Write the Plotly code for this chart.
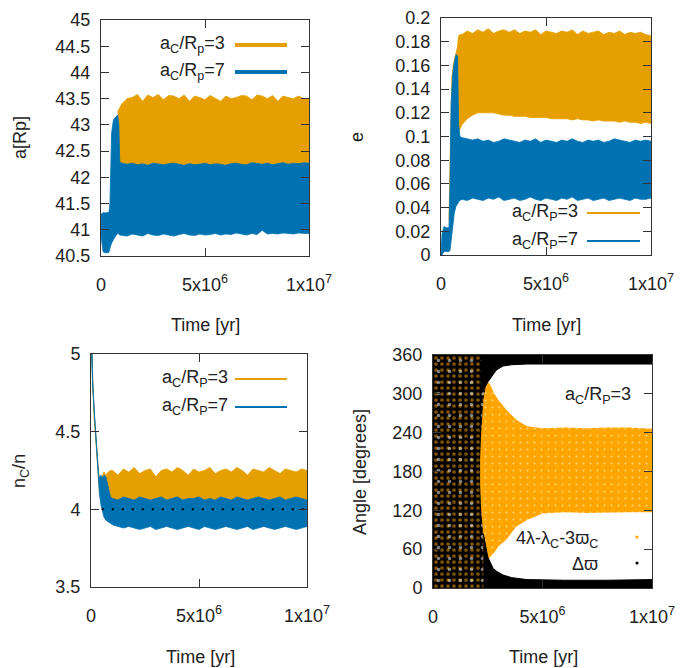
import plotly.graph_objects as go

# ---------------- data (time in Myr) ----------------
T_FLAT = [1.0, 1.25, 1.5, 1.75, 2.0, 2.25, 2.5, 2.75, 3.0, 3.25, 3.5, 3.75, 4.0, 4.25, 4.5, 4.75,
          5.0, 5.25, 5.5, 5.75, 6.0, 6.25, 6.5, 6.75, 7.0, 7.25, 7.5, 7.75, 8.0, 8.25, 8.5, 8.75,
          9.0, 9.25, 9.5, 9.75, 10.0]

# Panel 1: semi-major axis a [Rp] (envelopes of the oscillation band)
A7_T = [0, 0.05, 0.1, 0.2, 0.3, 0.38, 0.43, 0.51, 0.6, 0.7, 0.8, 0.86, 0.9] + T_FLAT
A7_HI = [41.3, 41.3, 41.33, 41.32, 41.33, 41.33, 41.5, 42.85, 43.1, 43.15, 43.19, 43.0, 42.3,
         42.27, 42.25, 42.27, 42.24, 42.26, 42.23, 42.27, 42.25, 42.24, 42.26, 42.27, 42.25, 42.23, 42.26,
         42.24, 42.25, 42.27, 42.24, 42.26, 42.25, 42.23, 42.26, 42.27, 42.25, 42.24, 42.28, 42.26, 42.25,
         42.27, 42.24, 42.26, 42.28, 42.25, 42.27, 42.26, 42.28, 42.27]
A7_LO = [40.9, 40.7, 40.58, 40.56, 40.56, 40.57, 40.65, 40.75, 40.82, 40.88, 40.93, 40.92, 40.9,
         40.90, 40.88, 40.92, 40.90, 40.88, 40.93, 40.90, 40.89, 40.92, 40.90, 40.88, 40.91, 40.93, 40.90,
         40.89, 40.92, 40.90, 40.91, 40.93, 40.90, 40.92, 40.91, 40.94, 40.92, 40.90, 40.93, 40.91, 40.99,
         40.92, 40.93, 40.92, 40.94, 40.93, 40.92, 40.94, 40.93, 40.93]
A3_T = [0.8, 0.86, 0.9] + T_FLAT
A3_HI = [43.25, 43.3, 43.35,
         43.4, 43.5, 43.52, 43.58, 43.45, 43.57, 43.52, 43.58, 43.48, 43.56, 43.55, 43.50, 43.57,
         43.45, 43.55, 43.52, 43.48, 43.56, 43.50, 43.45, 43.55, 43.50, 43.52, 43.56, 43.55, 43.48,
         43.57, 43.55, 43.50, 43.56, 43.45, 43.55, 43.52, 43.50, 43.55, 43.50, 43.50]
A3_LO = [42.2, 42.2, 42.2,
         42.2, 42.2, 42.2, 42.2, 42.2, 42.2, 42.2, 42.2, 42.2, 42.2, 42.2, 42.2, 42.2, 42.2, 42.2,
         42.2, 42.2, 42.2, 42.2, 42.2, 42.2, 42.2, 42.2, 42.2, 42.2, 42.2, 42.2, 42.2, 42.2, 42.2,
         42.2, 42.2, 42.2, 42.2, 42.2, 42.2, 42.2]

# Panel 2: eccentricity e
E7_T = [0, 0.05, 0.14, 0.25, 0.38, 0.43, 0.48, 0.56, 0.63, 0.71, 0.79, 0.84, 0.9] + T_FLAT
E7_HI = [0, 0.018, 0.024, 0.023, 0.023, 0.06, 0.128, 0.153, 0.162, 0.169, 0.168, 0.11, 0.1,
         0.099, 0.098, 0.097, 0.098, 0.096, 0.097, 0.095, 0.096, 0.098, 0.097, 0.096, 0.095, 0.097,
         0.096, 0.098, 0.095, 0.097, 0.096, 0.095, 0.097, 0.096, 0.098, 0.096, 0.095, 0.097, 0.096,
         0.097, 0.095, 0.096, 0.098, 0.097, 0.096, 0.095, 0.097, 0.096, 0.097, 0.096]
E7_LO = [0, 0, 0.003, 0.003, 0.003, 0.004, 0.01, 0.025, 0.035, 0.041, 0.043, 0.045, 0.046,
         0.047, 0.046, 0.048, 0.047, 0.046, 0.048, 0.047, 0.049, 0.046, 0.047, 0.048, 0.046, 0.047,
         0.049, 0.047, 0.046, 0.048, 0.047, 0.046, 0.048, 0.047, 0.049, 0.046, 0.047, 0.048, 0.046,
         0.047, 0.048, 0.046, 0.047, 0.048, 0.047, 0.046, 0.048, 0.047, 0.047, 0.048]
E3_T = [0.38, 0.43, 0.48, 0.52, 0.6, 0.7, 0.78, 0.84, 0.9] + T_FLAT
E3_HI = [0.03, 0.07, 0.12, 0.15, 0.162, 0.17, 0.175, 0.185, 0.186,
         0.186, 0.189, 0.187, 0.190, 0.188, 0.191, 0.187, 0.189, 0.190, 0.188, 0.190, 0.187, 0.189,
         0.188, 0.190, 0.186, 0.189, 0.188, 0.187, 0.189, 0.188, 0.190, 0.186, 0.189, 0.187, 0.188,
         0.189, 0.186, 0.188, 0.187, 0.189, 0.186, 0.188, 0.187, 0.188, 0.186, 0.185]
E3_LO = [0.003, 0.01, 0.03, 0.05, 0.07, 0.09, 0.1, 0.104, 0.106,
         0.110, 0.115, 0.118, 0.120, 0.120, 0.120, 0.120, 0.119, 0.118, 0.118, 0.117, 0.117, 0.117,
         0.116, 0.116, 0.116, 0.116, 0.115, 0.115, 0.115, 0.115, 0.114, 0.115, 0.114, 0.114, 0.113,
         0.114, 0.113, 0.113, 0.113, 0.112, 0.113, 0.112, 0.112, 0.111, 0.112, 0.111]

# Panel 3: period ratio n_C/n
N7_T = [0, 0.04, 0.08, 0.15, 0.23, 0.31, 0.35, 0.39, 0.46, 0.54, 0.6, 0.69, 0.8, 0.9] + T_FLAT
N7_HI = [5.3, 4.97, 4.83, 4.62, 4.44, 4.32, 4.23, 4.2, 4.22, 4.2, 4.22, 4.21, 4.15, 4.08,
         4.07, 4.06, 4.08, 4.07, 4.06, 4.08, 4.07, 4.06, 4.07, 4.08, 4.06, 4.07, 4.08, 4.06, 4.07,
         4.07, 4.08, 4.06, 4.07, 4.06, 4.08, 4.07, 4.06, 4.08, 4.07, 4.06, 4.07, 4.08, 4.07, 4.06,
         4.07, 4.08, 4.06, 4.07, 4.08, 4.07, 4.06]
N7_LO = [5.25, 4.93, 4.79, 4.58, 4.4, 4.28, 4.19, 4.1, 4.03, 3.98, 3.95, 3.93, 3.92, 3.91,
         3.9, 3.89, 3.88, 3.89, 3.88, 3.87, 3.88, 3.89, 3.87, 3.88, 3.89, 3.88, 3.87, 3.88, 3.89,
         3.88, 3.87, 3.89, 3.88, 3.87, 3.88, 3.89, 3.88, 3.87, 3.88, 3.89, 3.87, 3.88, 3.89, 3.88,
         3.87, 3.88, 3.89, 3.88, 3.87, 3.88, 3.89]
N3_T = [0, 0.04, 0.08, 0.15, 0.23, 0.31, 0.35, 0.39, 0.46, 0.54, 0.6, 0.7, 0.8, 0.9] + T_FLAT
N3_HI = [5.3, 4.97, 4.83, 4.62, 4.44, 4.32, 4.24, 4.2, 4.2, 4.22, 4.24, 4.22, 4.24, 4.25,
         4.25, 4.22, 4.26, 4.24, 4.27, 4.23, 4.25, 4.26, 4.21, 4.25, 4.26, 4.24, 4.27, 4.25, 4.22,
         4.26, 4.24, 4.25, 4.27, 4.23, 4.25, 4.26, 4.24, 4.27, 4.25, 4.22, 4.26, 4.25, 4.24, 4.27,
         4.25, 4.23, 4.26, 4.25, 4.24, 4.26, 4.25]
N3_LO = [5.25, 4.93, 4.79, 4.58, 4.4, 4.28, 4.2, 4.12, 4.06, 4.06, 4.06, 4.07, 4.07, 4.07,
         4.06, 4.06, 4.06, 4.06, 4.06, 4.06, 4.06, 4.06, 4.06, 4.06, 4.06, 4.06, 4.06, 4.06, 4.06,
         4.06, 4.06, 4.06, 4.06, 4.06, 4.06, 4.06, 4.06, 4.06, 4.06, 4.06, 4.06, 4.06, 4.06, 4.06,
         4.06, 4.06, 4.06, 4.06, 4.06, 4.06, 4.06]
REF_T = [0.5, 10.0]
REF_N = [4.0, 4.0]

# Panel 4: angles (degrees) - regions occupied by the point clouds
CHAOS_A = [0, 40, 80, 120, 160, 200, 240, 290, 330, 360]
CHAOS_T = [2.45, 2.4, 2.3, 2.2, 2.15, 2.15, 2.2, 2.3, 2.5, 2.9]
TOPB_T = [2.2, 2.5, 2.75, 2.9, 3.2, 3.6, 4.3, 6.0, 8.0, 10.0]
TOPB_A = [300, 318, 330, 337, 343, 345, 346, 346, 345, 346]
BOTB_T = [2.3, 2.5, 2.75, 2.9, 3.2, 3.6, 4.3, 5.2, 6.0, 8.0, 10.0]
BOTB_A = [84, 48, 30, 26, 20, 16, 13, 12, 12, 12, 13]
RES_T = [2.1, 2.2, 2.4, 2.6, 2.8, 3.0, 3.36, 3.8, 4.3, 5.0, 6.0, 7.0, 8.0, 9.0, 10.0]
RES_HI = [290, 305, 322, 315, 300, 290, 275, 260, 250, 247, 248, 247, 248, 248, 246]
RES_LO = [60, 45, 40, 48, 55, 65, 75, 95, 105, 115, 117, 116, 116, 117, 117]

X_TICKS = [0, 5e6, 1e7]
X_TICKTEXT = ['0', '5x10<sup>6</sup>', '1x10<sup>7</sup>']

for t, hi, lo in [(A7_T, A7_HI, A7_LO), (A3_T, A3_HI, A3_LO), (E7_T, E7_HI, E7_LO), (E3_T, E3_HI, E3_LO),
                  (N7_T, N7_HI, N7_LO), (N3_T, N3_HI, N3_LO), (RES_T, RES_HI, RES_LO)]:
    assert len(t) == len(hi) == len(lo), (len(t), len(hi), len(lo))

# ---------------- styling ----------------
W, H = 680, 668
ORANGE = '#E69F00'
BLUE = '#0072B2'
ORANGE4 = '#FFA500'
FONT = dict(family='Liberation Sans, Arial, sans-serif', size=18, color='#222222')
AX = '#333333'

fig = go.Figure()


def myr(t):
    return [v * 1e6 for v in t]


def band(t, hi, lo, color, ax):
    x = myr(t) + myr(t)[::-1]
    y = list(hi) + list(lo)[::-1]
    fig.add_trace(go.Scatter(x=x, y=y, mode='lines', fill='toself', fillcolor=color,
                             line=dict(color=color, width=0.8), xaxis='x' + ax, yaxis='y' + ax,
                             showlegend=False, hoverinfo='skip'))


band(A3_T, A3_HI, A3_LO, ORANGE, '')
band(A7_T, A7_HI, A7_LO, BLUE, '')
band(E3_T, E3_HI, E3_LO, ORANGE, '2')
band(E7_T, E7_HI, E7_LO, BLUE, '2')
band(N3_T, N3_HI, N3_LO, ORANGE, '3')
band(N7_T, N7_HI, N7_LO, BLUE, '3')
fig.add_trace(go.Scatter(x=myr(REF_T), y=REF_N, mode='lines', xaxis='x3', yaxis='y3',
                         line=dict(color='black', width=2, dash='2px,8px'), showlegend=False))

# panel 4 regions
fig.add_trace(go.Scatter(x=myr(RES_T) + myr(RES_T)[::-1], y=RES_HI + RES_LO[::-1], mode='lines',
                         fill='toself', fillcolor=ORANGE4, line=dict(width=0, color=ORANGE4),
                         fillpattern=dict(shape='.', bgcolor=ORANGE4, fgcolor='white', size=7,
                                          solidity=0.07),
                         xaxis='x4', yaxis='y4', showlegend=False, hoverinfo='skip'))
chaos_x = myr(CHAOS_T) + [0.0, 0.0]
chaos_y = CHAOS_A + [CHAOS_A[-1], CHAOS_A[0]]
fig.add_trace(go.Scatter(x=chaos_x, y=chaos_y, mode='lines',
                         fill='toself', fillcolor='black', line=dict(width=0, color='black'),
                         fillpattern=dict(shape='.', bgcolor='black', fgcolor=ORANGE4, size=6,
                                          solidity=0.3),
                         xaxis='x4', yaxis='y4', showlegend=False, hoverinfo='skip'))
fig.add_trace(go.Scatter(x=chaos_x, y=chaos_y, mode='lines',
                         fill='toself', fillcolor='rgba(0,0,0,0)', line=dict(width=0, color='black'),
                         fillpattern=dict(shape='.', bgcolor='rgba(0,0,0,0)', fgcolor='white', size=11,
                                          solidity=0.08),
                         xaxis='x4', yaxis='y4', showlegend=False, hoverinfo='skip'))
fig.add_trace(go.Scatter(x=myr(TOPB_T) + myr(TOPB_T)[::-1], y=TOPB_A + [360] * len(TOPB_A), mode='lines',
                         fill='toself', fillcolor='black', line=dict(width=1, color='black'),
                         xaxis='x4', yaxis='y4', showlegend=False, hoverinfo='skip'))
fig.add_trace(go.Scatter(x=myr(BOTB_T) + myr(BOTB_T)[::-1], y=BOTB_A + [0] * len(BOTB_A), mode='lines',
                         fill='toself', fillcolor='black', line=dict(width=1, color='black'),
                         xaxis='x4', yaxis='y4', showlegend=False, hoverinfo='skip'))


def axis_common():
    return dict(showline=True, linecolor=AX, linewidth=1, mirror='ticks', ticks='inside', ticklen=8,
                tickcolor=AX, showgrid=False, zeroline=False, tickfont=FONT)


def xaxis(dom, anchor):
    d = axis_common()
    d.update(domain=[dom[0] / W, dom[1] / W], range=[0, 1e7], tickvals=X_TICKS, ticktext=X_TICKTEXT,
             anchor=anchor, ticklabelstandoff=12)
    return d


def yaxis(dom, anchor, rng, vals, text):
    d = axis_common()
    d.update(domain=[1 - dom[1] / H, 1 - dom[0] / H], range=rng, tickvals=vals, ticktext=text,
             anchor=anchor, ticklabelstandoff=6)
    return d


P1 = ((101, 309), (20, 256))
P2 = ((441, 651), (18, 255))
P3 = ((91, 307), (354, 587))
P4 = ((433, 652), (355, 588))

fig.update_layout(
    width=W, height=H, margin=dict(l=0, r=0, t=0, b=0, autoexpand=False), plot_bgcolor='white',
    paper_bgcolor='white', font=FONT, showlegend=False,
    xaxis=xaxis(P1[0], 'y'),
    yaxis=yaxis(P1[1], 'x', [40.5, 45], [40.5, 41, 41.5, 42, 42.5, 43, 43.5, 44, 44.5, 45],
                ['40.5', '41', '41.5', '42', '42.5', '43', '43.5', '44', '44.5', '45']),
    xaxis2=xaxis(P2[0], 'y2'),
    yaxis2=yaxis(P2[1], 'x2', [0, 0.2], [0, 0.02, 0.04, 0.06, 0.08, 0.1, 0.12, 0.14, 0.16, 0.18, 0.2],
                 ['0', '0.02', '0.04', '0.06', '0.08', '0.1', '0.12', '0.14', '0.16', '0.18', '0.2']),
    xaxis3=xaxis(P3[0], 'y3'),
    yaxis3=yaxis(P3[1], 'x3', [3.5, 5], [3.5, 4, 4.5, 5], ['3.5', '4', '4.5', '5']),
    xaxis4=xaxis(P4[0], 'y4'),
    yaxis4=yaxis(P4[1], 'x4', [0, 360], [0, 60, 120, 180, 240, 300, 360],
                 ['0', '60', '120', '180', '240', '300', '360']),
)


def ann(text, x, y, xanchor='right', angle=0):
    fig.add_annotation(text=text, x=x / W, y=1 - y / H, xref='paper', yref='paper', xanchor=xanchor,
                       yanchor='middle', showarrow=False, textangle=angle, font=FONT)


def key_line(x0, x1, y, color, width):
    fig.add_shape(type='line', xref='paper', yref='paper', x0=x0 / W, x1=x1 / W, y0=1 - y / H, y1=1 - y / H,
                  line=dict(color=color, width=width))


def key_dot(x, y, color, r=1.6):
    fig.add_shape(type='circle', xref='paper', yref='paper', x0=(x - r) / W, x1=(x + r) / W,
                  y0=1 - (y + r) / H, y1=1 - (y - r) / H, fillcolor=color, line=dict(width=0))


# axis titles
ann('a[Rp]', 20, 138, 'center', -90)
ann('e', 357, 137, 'center', -90)
ann('n<sub>C</sub>/n', 20, 471, 'center', -90)
ann('Angle [degrees]', 360, 472, 'center', -90)
ann('Time [yr]', 205, 325, 'center')
ann('Time [yr]', 546, 325, 'center')
ann('Time [yr]', 200, 657, 'center')
ann('Time [yr]', 543, 657, 'center')

# keys
ann('a<sub>C</sub>/R<sub>p</sub>=3', 227, 45)
ann('a<sub>C</sub>/R<sub>p</sub>=7', 227, 72)
key_line(235, 287, 45, ORANGE, 4)
key_line(235, 287, 72, BLUE, 4)

ann('a<sub>C</sub>/R<sub>P</sub>=3', 580, 213)
ann('a<sub>C</sub>/R<sub>P</sub>=7', 580, 241)
key_line(587, 640, 213, ORANGE, 2)
key_line(587, 640, 241, BLUE, 2)

ann('a<sub>C</sub>/R<sub>P</sub>=3', 230, 379)
ann('a<sub>C</sub>/R<sub>P</sub>=7', 230, 407)
key_line(235, 287, 379, ORANGE, 2)
key_line(235, 287, 407, BLUE, 2)

ann('a<sub>C</sub>/R<sub>P</sub>=3', 633, 395)
ann('4\u03bb-\u03bb<sub>C</sub>-3\u03d6<sub>C</sub>', 600, 539)
ann('\u0394\u03d6', 600, 564)
key_dot(637, 537, ORANGE4)
key_dot(637, 563, 'black')

fig.write_html('out.html')
